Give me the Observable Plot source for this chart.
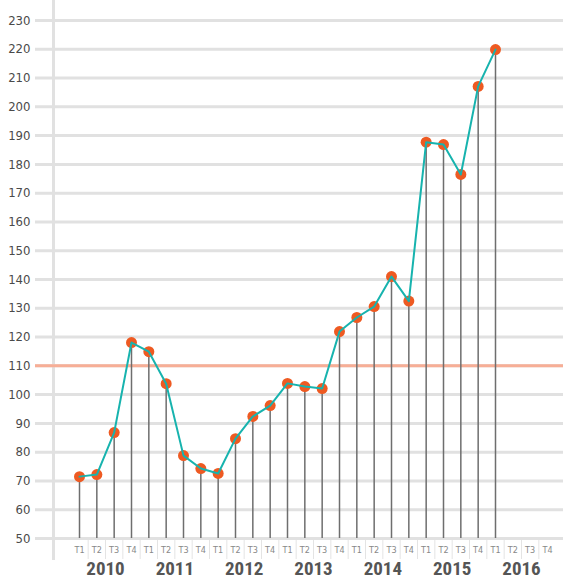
<!DOCTYPE html>
<html><head><meta charset="utf-8">
<script src="https://cdn.jsdelivr.net/npm/d3@7"></script>
<script src="https://cdn.jsdelivr.net/npm/@observablehq/plot@0.6"></script>
<style>
html,body{margin:0;padding:0;background:#fff;}
svg{display:block;}
svg text{font-stretch:condensed;}
</style></head>
<body><div id="chart"></div>
<script>
const years = ["2010","2011","2012","2013","2014","2015","2016"];
const quarters = ["T1","T2","T3","T4"];
const values = [71.5,72.2,86.8,118.1, 114.9,103.8,78.8,74.3, 72.6,84.7,92.4,96.2, 103.9,102.8,102.1,121.9, 126.8,130.6,141.0,132.5, 187.7,186.9,176.5,207.1, 219.9];
const yTicks = [50,60,70,80,90,100,110,120,130,140,150,160,170,180,190,200,210,220,230];
const threshold = 110;

const data = values.map((v,i)=>({i, v}));
const allQ = d3.range(years.length*4);

const W = 563, H = 581, mT = 20, mB = 43, mL = 35, mR = 0;
const yDom = [50,230];
const pxPerUnit = (H - mB - mT)/(yDom[1]-yDom[0]);
const yFromPx = px => yDom[0] + (H - mB - px)/pxPerUnit;

const stepPx = (547-79)/27;
const xDom = [-(79-mL)/stepPx, 27 + (W-mR-547)/stepPx];

const font = "'DejaVu Sans Condensed','DejaVu Sans',sans-serif";

const chart = Plot.plot({
  width: W, height: H,
  marginTop: mT, marginBottom: mB, marginLeft: mL, marginRight: mR,
  style: {fontFamily: font, background: "#fff"},
  x: {type: "linear", domain: xDom, axis: null},
  y: {domain: yDom},
  marks: [
    Plot.ruleY(yTicks, {stroke: "#e1e1e1", strokeWidth: 3}),
    Plot.ruleX([-1.5], {y1: yFromPx(0), y2: yFromPx(560), stroke: "#e1e1e1", strokeWidth: 3}),
    Plot.ruleX(d3.range(27).map(i=>i+0.5), {y1: yFromPx(540), y2: yFromPx(559), stroke: "#e4e4e4", strokeWidth: 1}),
    Plot.ruleY([threshold], {stroke: "#f7ae96", strokeWidth: 3}),
    Plot.ruleX(data, {x: "i", y1: yDom[0], y2: "v", stroke: "#6e6e6e", strokeWidth: 1.5}),
    Plot.dot(data, {x: "i", y: "v", r: 5.5, fill: "#ee5a22", stroke: "none"}),
    Plot.line(data, {x: "i", y: "v", stroke: "#17b3ae", strokeWidth: 2}),
    Plot.axisY(yTicks, {tickSize: 0, tickPadding: 5, fontSize: 13, fill: "#4a4a4a", label: null}),
    Plot.text(allQ, {x: d=>d, frameAnchor: "bottom", dy: 14, text: d=>quarters[d%4], fontSize: 9, fill: "#888"}),
    Plot.text(years, {x: (d,k)=>k*4+1.5, frameAnchor: "bottom", dy: 36, text: d=>d, fontSize: 19, fontWeight: "bold", fill: "#555", fontFamily: "Roboto, 'Liberation Sans', sans-serif"})
  ]
});
document.getElementById("chart").appendChild(chart);
</script>
</body></html>
